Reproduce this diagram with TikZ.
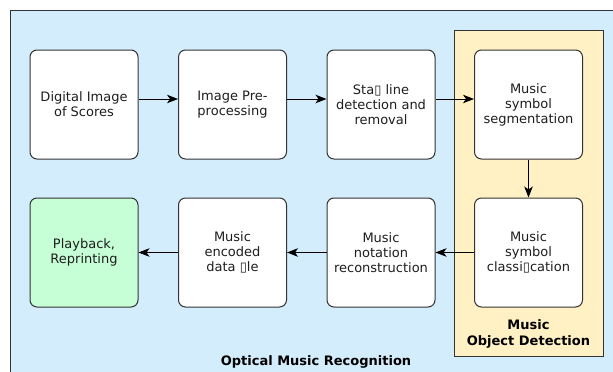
\documentclass[tikz,border=0pt]{standalone}
\usepackage{fontspec}
\setmainfont{DejaVu Sans}
\usetikzlibrary{arrows.meta}
\definecolor{omrblue}{RGB}{212,237,252}
\definecolor{omryellow}{RGB}{255,241,195}
\definecolor{omrgreen}{RGB}{198,255,214}
\definecolor{omrline}{RGB}{51,51,51}
\definecolor{omrtext}{RGB}{30,30,30}
\tikzset{
  stage/.style={draw=omrline, line width=1pt, fill=white, rounded corners=7pt,
    minimum width=108pt, minimum height=109pt, align=center, text=omrtext,
    font=\fontsize{13}{15}\selectfont, inner sep=2pt},
  flow/.style={draw=black, line width=0.9pt, -{Stealth[length=11pt,width=8.5pt,inset=3pt]}},
  grouplabel/.style={font=\fontsize{13}{16}\selectfont\bfseries, align=center, text=black}
}
\begin{document}
\begin{tikzpicture}[x=1pt,y=-1pt]
\useasboundingbox (0,0) rectangle (613,372);
% outer frame of the whole recognition pipeline
\begin{scope}
\clip (0,0) rectangle (613,372);
\draw[fill=omrblue, draw=omrline, line width=1pt] (10,10) rectangle (640,400);
\end{scope}
% object detection group
\draw[fill=omryellow, draw=omrline, line width=1pt] (454,30) rectangle (603,356);

% top row
\node[stage] (scan) at (84,104.5) {Digital Image\\of Scores};
\node[stage] (prep) at (232.5,104.5) {Image Pre-\\processing};
\node[stage] (staff) at (381,104.5) {Sta▯ line\\detection and\\removal};
\node[stage] (seg) at (528.5,104.5) {Music\\symbol\\segmentation};
% bottom row
\node[stage, fill=omrgreen] (play) at (84,252.5) {Playback,\\Reprinting};
\node[stage] (file) at (232.5,252.5) {Music\\encoded\\data ▯le};
\node[stage] (recon) at (381,252.5) {Music\\notation\\reconstruction};
\node[stage] (cls) at (528.5,252.5) {Music\\symbol\\classi▯cation};

% group captions
\node[grouplabel] (odlabel) at (528.5,334) {Music\\Object Detection};
\node[grouplabel] (omrlabel) at (316,362) {Optical Music Recognition};

% connectors
\draw[flow] ([yshift=5.5pt]scan.east) -- ([yshift=5.5pt]prep.west);
\draw[flow] ([yshift=5.5pt]prep.east) -- ([yshift=5.5pt]staff.west);
\draw[flow] ([yshift=5.5pt]staff.east) -- ([yshift=5.5pt]seg.west);
\draw[flow] (seg.south) -- (cls.north);
\draw[flow] (cls.west) -- (recon.east);
\draw[flow] (recon.west) -- (file.east);
\draw[flow] (file.west) -- (play.east);
\end{tikzpicture}
\end{document}
